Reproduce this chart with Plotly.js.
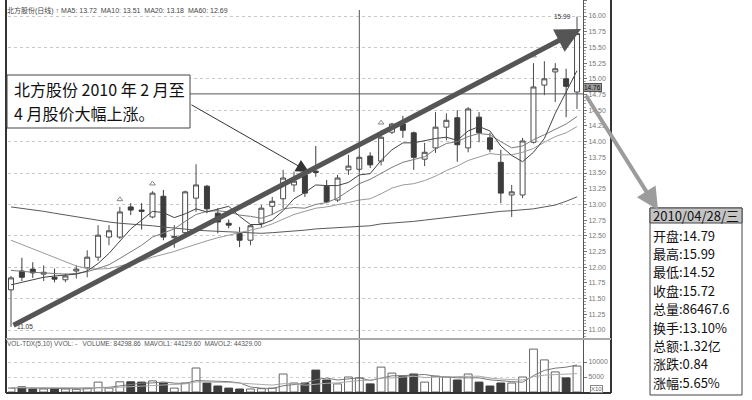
<!DOCTYPE html>
<html><head><meta charset="utf-8">
<script src="https://cdn.plot.ly/plotly-3.0.1.min.js"></script>
<style>html,body{margin:0;padding:0;background:#fff;}#chart{width:752px;height:400px;}</style>
</head><body><div id="chart"></div>
<script>
const dates = ["2010-02-05","2010-02-08","2010-02-09","2010-02-10","2010-02-11","2010-02-12","2010-02-22","2010-02-23","2010-02-24","2010-02-25","2010-02-26",
"2010-03-01","2010-03-02","2010-03-03","2010-03-04","2010-03-05","2010-03-08","2010-03-09","2010-03-10","2010-03-11","2010-03-12",
"2010-03-15","2010-03-16","2010-03-17","2010-03-18","2010-03-19","2010-03-22","2010-03-23","2010-03-24","2010-03-25","2010-03-26",
"2010-03-29","2010-03-30","2010-03-31","2010-04-01","2010-04-02","2010-04-06","2010-04-07","2010-04-08","2010-04-09","2010-04-12",
"2010-04-13","2010-04-14","2010-04-15","2010-04-16","2010-04-19","2010-04-20","2010-04-21","2010-04-22","2010-04-23","2010-04-26",
"2010-04-27","2010-04-28"];
const opens = [11.64,11.94,11.97,11.89,11.84,11.80,11.94,11.99,12.16,12.48,12.48,12.96,12.91,12.80,13.13,12.47,12.55,13.10,13.29,12.86,12.70,12.54,12.43,12.70,12.97,13.09,13.31,13.47,13.53,13.29,13.07,13.55,13.56,13.77,13.69,14.15,14.28,14.14,13.72,13.90,14.23,14.38,13.90,14.39,14.06,13.67,13.15,13.15,13.99,14.90,15.11,15.00,14.79];
const highs = [11.86,12.15,12.08,12.03,11.98,11.90,12.03,12.27,12.67,12.67,12.96,13.02,13.02,13.21,13.23,12.67,13.22,13.64,13.31,12.94,12.76,12.64,12.68,12.99,13.12,13.55,13.52,13.50,13.93,13.39,13.47,13.79,13.78,13.83,14.18,14.30,14.41,14.16,13.98,14.47,14.45,14.50,14.55,14.47,14.14,13.87,13.31,14.06,15.25,15.28,15.25,15.16,15.99];
const lows = [11.05,11.78,11.83,11.78,11.76,11.76,11.82,11.84,12.10,12.35,12.45,12.83,12.60,12.78,12.43,12.31,12.50,12.88,12.86,12.54,12.62,12.32,12.35,12.64,12.83,12.94,13.20,13.12,13.44,13.02,13.04,13.47,13.52,13.58,13.62,14.12,14.06,13.55,13.61,13.82,14.02,13.68,13.83,13.99,13.83,13.02,12.80,13.10,13.97,14.74,14.63,14.39,14.52];
const closes = [11.83,11.84,11.91,11.92,11.81,11.86,11.97,12.16,12.51,12.58,12.88,12.91,12.89,13.18,12.48,12.49,13.20,13.31,12.93,12.72,12.67,12.43,12.66,12.94,13.05,13.42,13.37,13.18,13.51,13.04,13.42,13.61,13.75,13.63,14.07,14.28,14.18,13.75,13.83,14.23,14.34,13.95,14.52,14.14,13.88,13.18,13.20,14.01,14.87,15.00,15.16,14.88,15.72];
const ma5 = [11.72,11.76,11.80,11.84,11.86,11.87,11.89,11.94,12.06,12.22,12.42,12.61,12.75,12.89,12.87,12.79,12.85,12.93,12.88,12.93,12.97,12.81,12.68,12.68,12.75,12.90,13.09,13.19,13.31,13.30,13.30,13.35,13.47,13.49,13.70,13.87,13.98,13.98,14.02,14.05,14.07,14.02,14.17,14.24,14.17,13.93,13.78,13.68,13.83,14.05,14.45,14.78,15.13];
const ma10 = [11.95,11.93,11.92,11.91,11.90,11.89,11.90,11.93,11.98,12.04,12.14,12.25,12.35,12.48,12.54,12.61,12.73,12.84,12.89,12.90,12.88,12.83,12.81,12.78,12.84,12.93,12.95,12.94,13.00,13.03,13.10,13.22,13.33,13.40,13.50,13.59,13.67,13.72,13.76,13.88,13.97,14.00,14.08,14.13,14.11,14.00,13.90,13.93,14.03,14.11,14.19,14.28,14.40];
const ma20 = [12.43,12.36,12.29,12.22,12.15,12.08,12.02,11.98,11.97,11.98,12.02,12.06,12.10,12.16,12.20,12.25,12.31,12.37,12.42,12.47,12.51,12.54,12.58,12.63,12.69,12.77,12.84,12.89,12.94,12.96,12.99,13.03,13.07,13.09,13.17,13.26,13.31,13.33,13.38,13.45,13.54,13.61,13.70,13.76,13.81,13.79,13.79,13.83,13.89,13.99,14.08,14.14,14.24];
const ma60 = [12.96,12.94,12.91,12.89,12.86,12.83,12.80,12.77,12.74,12.72,12.70,12.69,12.67,12.66,12.64,12.62,12.61,12.59,12.58,12.57,12.56,12.55,12.54,12.54,12.55,12.56,12.58,12.59,12.61,12.62,12.63,12.63,12.64,12.66,12.69,12.70,12.72,12.73,12.75,12.77,12.79,12.82,12.84,12.86,12.88,12.89,12.90,12.91,12.93,12.96,12.99,13.05,13.12];
const volumes = [1300,1700,1000,1000,1000,1000,900,1300,3300,1300,3400,3400,3300,3700,3000,1300,3000,8000,3000,2000,1300,1000,1000,1100,1300,6000,3000,3000,7300,4000,2700,5000,4700,2700,8300,6300,5300,6000,3300,5300,5000,4000,6000,3300,2000,3000,3000,5000,14300,10700,6700,4700,8647];
const mavol1 = [1400,1350,1300,1250,1200,1140,980,1040,1500,1560,2040,2540,2940,3020,3360,2940,2860,3800,3660,3460,3460,3060,1660,1280,1140,2080,2480,2880,4120,4660,4000,4400,4740,3820,4680,5400,5460,5720,5840,5240,4980,4720,4720,4720,4060,3660,3460,3260,5460,7200,7940,8280,9009];
const mavol2 = [1500,1480,1450,1420,1400,1380,1350,1350,1370,1380,1590,1760,1990,2260,2460,2490,2700,3370,3340,3410,3200,2960,2730,2470,2300,2770,2770,2270,2700,2900,3040,3440,3810,3970,4670,4700,4930,5230,4830,4960,5190,5090,5220,5280,4650,4320,4090,3990,5090,5630,5800,5870,6135];
const signalIdx = [10, 13, 34, 48];
const crossIdx = 32;
const crossPrice = 14.76;
const infoHeader = "2010/04/28/三";
const infoLabels = ["开盘","最高","最低","收盘","总量","换手","总额","涨跌","涨幅"];
const infoValues = ["14.79","15.99","14.52","15.72","86467.6","13.10%","1.32亿","0.84","5.65%"];
const titleText = "北方股份(日线) ↑ MA5: 13.72  MA10: 13.51  MA20: 13.18  MA60: 12.69";
const volTitle = "VOL-TDX(5,10) VVOL: -   VOLUME: 84298.86  MAVOL1: 44129.60  MAVOL2: 44329.00";
const noteLines = ["北方股份 2010 年 2 月至", "4 月股价大幅上涨。"];

const W = 752, H = 400, ML = 8, MR = 169, MT = 0, MB = 7;
const PW = W - ML - MR, PH = H - MT - MB;
const px = x => (x - ML) / PW;
const py = y => (PH - y + MT) / PH;

const DARK = '#3c3c3c';
const FONT = '"Liberation Sans", Arial, "Noto Sans CJK SC", sans-serif';
const CJK = '"Noto Sans CJK SC", sans-serif';

const traces = [];
traces.push({type:'scatter', mode:'lines', x:dates, y:ma60, line:{color:'#5a5a5a', width:1}, hoverinfo:'skip'});
traces.push({type:'scatter', mode:'lines', x:dates, y:ma20, line:{color:'#9a9a9a', width:1}, hoverinfo:'skip'});
traces.push({type:'scatter', mode:'lines', x:dates, y:ma10, line:{color:'#7a7a7a', width:1}, hoverinfo:'skip'});
traces.push({type:'scatter', mode:'lines', x:dates, y:ma5, line:{color:'#444', width:1}, hoverinfo:'skip'});
traces.push({type:'candlestick', x:dates, open:opens, high:highs, low:lows, close:closes,
  increasing:{line:{color:'#4a4a4a', width:1}, fillcolor:'#ffffff'},
  decreasing:{line:{color:DARK, width:1}, fillcolor:DARK},
  whiskerwidth:0, hoverinfo:'skip'});
traces.push({type:'scatter', mode:'markers', x:signalIdx.map(i=>dates[i]), y:signalIdx.map(i=>highs[i]+0.12),
  marker:{symbol:'triangle-up-open', size:5, color:'#888', line:{width:1}}, hoverinfo:'skip'});
const up = closes.map((c,i)=>c>=opens[i]);
traces.push({type:'bar', x:dates, y:volumes, yaxis:'y2', width:0.72,
  marker:{color:up.map(u=>u?'#ffffff':DARK), line:{color:up.map(u=>u?'#666':DARK), width:1}}, hoverinfo:'skip'});
traces.push({type:'scatter', mode:'lines', x:dates, y:mavol1, yaxis:'y2', line:{color:'#777', width:1}, hoverinfo:'skip'});
traces.push({type:'scatter', mode:'lines', x:dates, y:mavol2, yaxis:'y2', line:{color:'#aaa', width:1}, hoverinfo:'skip'});

const priceRange = [10.873, 16.255];
const shapes = [
  {type:'line', xref:'paper', yref:'y', x0:0, x1:1, y0:crossPrice, y1:crossPrice, line:{color:'#555', width:1}, layer:'above'},
  {type:'line', xref:'x', yref:'paper', x0:dates[crossIdx], x1:dates[crossIdx], y0:0, y1:py(10), line:{color:'#555', width:1}, layer:'above'},
  {type:'line', xref:'paper', yref:'paper', x0:px(6), x1:px(6), y0:0, y1:1, line:{color:'#333', width:2}},
  {type:'line', xref:'paper', yref:'paper', x0:px(611), x1:px(611), y0:0, y1:1, line:{color:'#333', width:2}},
  {type:'line', xref:'paper', yref:'paper', x0:px(6), x1:px(611), y0:py(393), y1:py(393), line:{color:'#333', width:2}},
  {type:'line', xref:'paper', yref:'paper', x0:px(6), x1:px(611), y0:py(339), y1:py(339), line:{color:'#aaa', width:2}},
  {type:'rect', xref:'paper', yref:'paper', x0:px(7), x1:px(190), y0:py(128), y1:py(75), fillcolor:'#fff', line:{color:'#444', width:1}, layer:'above'},
  {type:'rect', xref:'paper', yref:'paper', x0:px(650), x1:px(742), y0:py(395), y1:py(208), fillcolor:'#fff', line:{color:'#444', width:1}, layer:'above'},
  {type:'rect', xref:'paper', yref:'paper', x0:px(650), x1:px(742), y0:py(223), y1:py(208), fillcolor:'#c4c4c4', line:{color:'#444', width:1}, layer:'above'}
];

const ann = [];
ann.push({xref:'paper', yref:'paper', x:px(5), y:py(11), xanchor:'left', yanchor:'middle', showarrow:false, text:titleText, font:{family:FONT, size:7, color:'#444'}});
ann.push({xref:'paper', yref:'paper', x:px(5), y:py(344), xanchor:'left', yanchor:'middle', showarrow:false, text:volTitle, font:{family:FONT, size:6.5, color:'#555'}});
ann.push({xref:'x', yref:'y', x:dates[0], y:lows[0], xanchor:'left', yanchor:'middle', xshift:4, showarrow:false, text:'11.05', font:{family:FONT, size:6.5, color:'#333'}});
ann.push({xref:'x', yref:'y', x:dates[52], y:highs[52], xanchor:'right', yanchor:'middle', xshift:-4, showarrow:false, text:'15.99', font:{family:FONT, size:6.5, color:'#333'}});
ann.push({xref:'paper', yref:'y', x:1, y:crossPrice, xanchor:'left', yanchor:'middle', yshift:6, showarrow:false, text:crossPrice.toFixed(2), bgcolor:'#9a9a9a', bordercolor:'#555', borderwidth:1, borderpad:0, font:{family:FONT, size:6.5, color:'#111'}});
ann.push({xref:'paper', yref:'paper', x:1.012, y:py(389), xanchor:'left', yanchor:'middle', showarrow:false, text:'X10', bordercolor:'#888', borderwidth:1, borderpad:0, font:{family:FONT, size:6, color:'#666'}});
ann.push({xref:'paper', yref:'paper', x:px(309), y:py(172), ax:190-309, ay:104-172, axref:'pixel', ayref:'pixel', text:'', showarrow:true, arrowhead:2, arrowsize:2.6, arrowwidth:1, arrowcolor:'#333'});
ann.push({xref:'paper', yref:'paper', x:px(581), y:py(29), ax:12-581, ay:326-29, axref:'pixel', ayref:'pixel', text:'', showarrow:true, arrowhead:2, arrowsize:1, arrowwidth:5, arrowcolor:'#555'});
ann.push({xref:'paper', yref:'paper', x:px(658), y:py(210), ax:585-658, ay:94-210, axref:'pixel', ayref:'pixel', text:'', showarrow:true, arrowhead:2, arrowsize:1.1, arrowwidth:4, arrowcolor:'#9c9c9c'});
ann.push({xref:'paper', yref:'paper', x:px(12), y:py(89), xanchor:'left', yanchor:'middle', showarrow:false, text:noteLines[0], font:{family:CJK, size:16, color:'#111'}});
ann.push({xref:'paper', yref:'paper', x:px(12), y:py(113), xanchor:'left', yanchor:'middle', showarrow:false, text:noteLines[1], font:{family:CJK, size:16, color:'#111'}});
ann.push({xref:'paper', yref:'paper', x:px(651), y:py(215.5), xanchor:'left', yanchor:'middle', showarrow:false, text:infoHeader, font:{family:CJK, size:13, color:'#111'}});
infoLabels.forEach((lab,i)=>{
  ann.push({xref:'paper', yref:'paper', x:px(651), y:py(235 + 18.4*i), xanchor:'left', yanchor:'middle', showarrow:false, text:lab + ':' + infoValues[i], font:{family:CJK, size:13, color:'#111'}});
});

const layout = {
  width:W, height:H, margin:{l:ML, r:MR, t:MT, b:MB}, paper_bgcolor:'#fff', plot_bgcolor:'#fff',
  showlegend:false, hovermode:false, boxgap:0.35,
  xaxis:{type:'category', range:[-0.276, 52.55], showticklabels:false, showgrid:false, zeroline:false, showline:false, ticks:'', rangeslider:{visible:false}, fixedrange:true, anchor:'y2'},
  yaxis:{domain:[py(338), 1], range:priceRange, side:'right', anchor:'x', tickmode:'linear', tick0:11, dtick:0.25, tickformat:'.2f',
    ticks:'outside', ticklen:3, tickcolor:'#777', showline:true, linecolor:'#555', linewidth:1, showgrid:false, zeroline:false,
    minor:{ticks:'outside', ticklen:2, dtick:0.05, tickcolor:'#999'},
    tickfont:{family:FONT, size:7, color:'#777'}},
  yaxis3:{overlaying:'y', range:priceRange, side:'right', tickmode:'linear', tick0:11, dtick:0.5, showticklabels:false, ticks:'',
    showgrid:true, gridcolor:'#c8c8c8', griddash:'dot', gridwidth:1, zeroline:false, showline:false},
  yaxis2:{domain:[py(392), py(340)], range:[0, 17333], side:'right', anchor:'x', tickvals:[5000,10000], ticktext:['5000','10000'],
    ticks:'outside', ticklen:3, tickcolor:'#777', showline:true, linecolor:'#555', linewidth:1, showgrid:true, gridcolor:'#d0d0d0', griddash:'dot', zeroline:false,
    tickfont:{family:FONT, size:7, color:'#777'}},
  shapes:shapes, annotations:ann
};
traces.push({type:'scatter', x:[dates[0]], y:[12], yaxis:'y3', mode:'markers', marker:{opacity:0}, hoverinfo:'skip'});
Plotly.newPlot('chart', traces, layout, {staticPlot:true, displayModeBar:false});
</script></body></html>
